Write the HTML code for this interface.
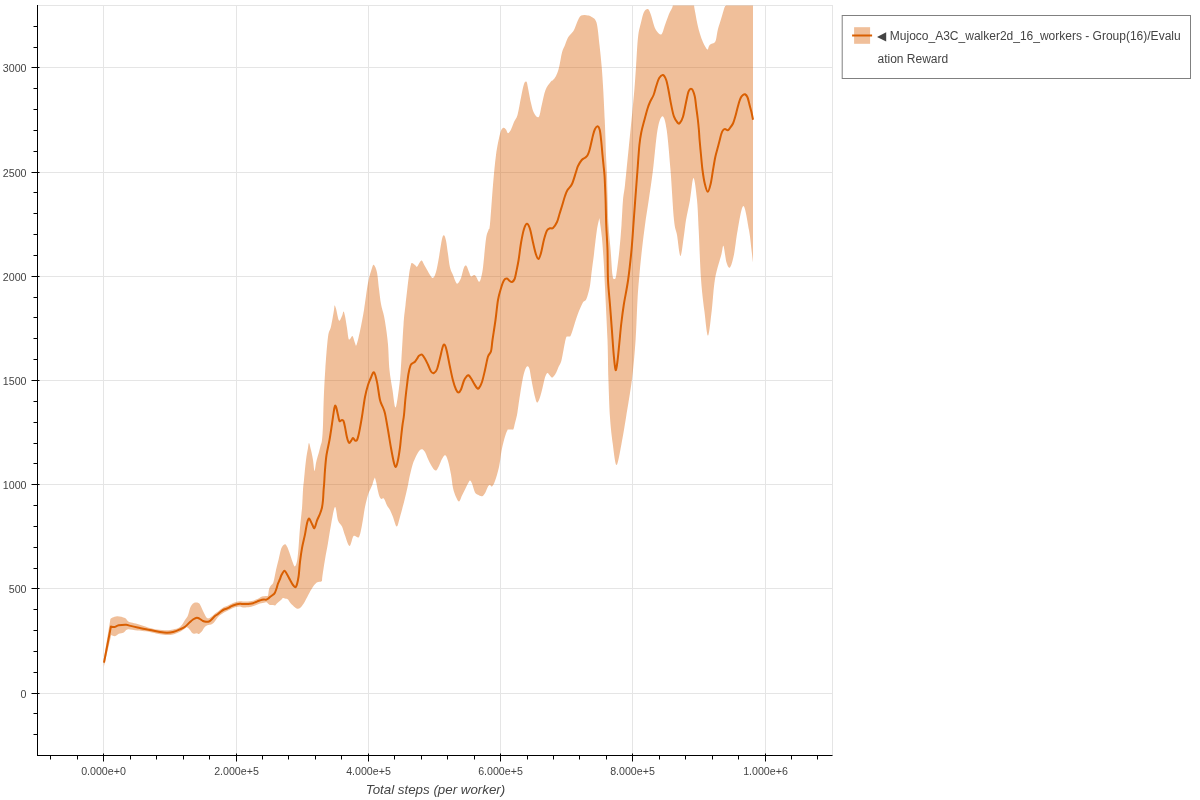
<!DOCTYPE html>
<html><head><meta charset="utf-8">
<style>
html,body{margin:0;padding:0;background:#fff;width:1200px;height:800px;overflow:hidden;}
svg{position:absolute;left:0;top:0;will-change:transform;}
.lbl text{font-family:"Liberation Sans",sans-serif;font-size:10.67px;fill:#444;}
.ax text{font-family:"Liberation Sans",sans-serif;font-size:13.33px;font-style:italic;fill:#444;}
#legend{will-change:transform;position:absolute;left:842px;top:15px;width:347px;height:62px;border:1px solid transparent;box-sizing:content-box;}
#legend .txt{position:absolute;left:34.5px;top:9px;width:305px;font-family:"Liberation Sans",sans-serif;font-size:12px;line-height:23px;color:#444;word-break:break-all;}
</style></head><body>
<svg width="1200" height="800" viewBox="0 0 1200 800">
<defs><clipPath id="cp"><rect x="37.5" y="5.5" width="795.0" height="750.0"/></clipPath></defs>
<rect x="37.5" y="5.5" width="795.0" height="750.0" fill="none" stroke="#e5e5e5" stroke-width="1"/>
<g stroke="#e5e5e5" stroke-width="1">
<line x1="103.5" y1="5.5" x2="103.5" y2="755.5" />
<line x1="236.5" y1="5.5" x2="236.5" y2="755.5" />
<line x1="368.5" y1="5.5" x2="368.5" y2="755.5" />
<line x1="500.5" y1="5.5" x2="500.5" y2="755.5" />
<line x1="632.5" y1="5.5" x2="632.5" y2="755.5" />
<line x1="765.5" y1="5.5" x2="765.5" y2="755.5" />
<line x1="37.5" y1="693.5" x2="832.5" y2="693.5" />
<line x1="37.5" y1="588.5" x2="832.5" y2="588.5" />
<line x1="37.5" y1="484.5" x2="832.5" y2="484.5" />
<line x1="37.5" y1="380.5" x2="832.5" y2="380.5" />
<line x1="37.5" y1="276.5" x2="832.5" y2="276.5" />
<line x1="37.5" y1="172.5" x2="832.5" y2="172.5" />
<line x1="37.5" y1="67.5" x2="832.5" y2="67.5" />
</g>
<g clip-path="url(#cp)">
<path d="M103.70,660.00 C104.82,653.17 109.28,625.83 110.40,619.00 C110.75,618.75 111.32,617.96 112.50,617.50 C113.68,617.04 115.42,616.17 117.50,616.25 C119.58,616.33 123.25,617.17 125.00,618.00 C126.75,618.83 126.96,620.50 128.00,621.25 C129.04,622.00 129.67,622.04 131.25,622.50 C132.83,622.96 135.42,623.42 137.50,624.00 C139.58,624.58 141.67,625.33 143.75,626.00 C145.83,626.67 148.96,627.67 150.00,628.00 C151.04,628.33 148.83,627.75 150.00,628.00 C151.17,628.25 154.17,629.13 157.00,629.50 C159.83,629.87 164.33,630.20 167.00,630.20 C169.67,630.20 170.83,630.03 173.00,629.50 C175.17,628.97 178.00,628.58 180.00,627.00 C182.00,625.42 183.67,621.95 185.00,620.00 C186.33,618.05 187.08,617.47 188.00,615.30 C188.92,613.13 189.58,609.00 190.50,607.00 C191.42,605.00 192.48,604.05 193.50,603.30 C194.52,602.55 195.68,602.50 196.60,602.50 C197.52,602.50 198.27,602.63 199.00,603.30 C199.73,603.97 200.33,605.22 201.00,606.50 C201.67,607.78 202.33,609.58 203.00,611.00 C203.67,612.42 204.33,613.83 205.00,615.00 C205.67,616.17 206.33,617.46 207.00,618.00 C207.67,618.54 208.33,618.42 209.00,618.25 C209.67,618.08 210.33,617.46 211.00,617.00 C211.67,616.54 212.33,616.08 213.00,615.50 C213.67,614.92 214.17,614.17 215.00,613.50 C215.83,612.83 217.00,612.25 218.00,611.50 C219.00,610.75 220.00,609.75 221.00,609.00 C222.00,608.25 223.00,607.50 224.00,607.00 C225.00,606.50 226.00,606.42 227.00,606.00 C228.00,605.58 229.00,605.00 230.00,604.50 C231.00,604.00 232.00,603.42 233.00,603.00 C234.00,602.58 234.83,602.28 236.00,602.00 C237.17,601.72 238.83,601.38 240.00,601.30 C241.17,601.22 242.00,601.47 243.00,601.50 C244.00,601.53 244.83,601.54 246.00,601.50 C247.17,601.46 248.83,601.38 250.00,601.25 C251.17,601.12 252.00,601.04 253.00,600.75 C254.00,600.46 255.00,599.92 256.00,599.50 C257.00,599.08 258.00,598.75 259.00,598.25 C260.00,597.75 260.83,596.88 262.00,596.50 C263.17,596.12 265.00,596.17 266.00,596.00 C267.00,595.83 267.50,596.62 268.00,595.50 C268.50,594.38 268.54,590.88 269.00,589.25 C269.46,587.62 270.02,586.92 270.75,585.75 C271.48,584.58 272.52,584.88 273.40,582.25 C274.27,579.62 275.13,573.79 276.00,570.00 C276.87,566.21 277.80,562.85 278.60,559.50 C279.40,556.15 280.07,552.23 280.80,549.90 C281.53,547.57 282.27,546.45 283.00,545.50 C283.73,544.55 284.47,543.91 285.20,544.20 C285.93,544.49 286.60,545.58 287.40,547.25 C288.20,548.92 289.13,551.79 290.00,554.25 C290.87,556.71 291.80,559.96 292.60,562.00 C293.40,564.04 294.07,566.62 294.80,566.50 C295.53,566.38 296.38,564.33 297.00,561.25 C297.62,558.17 298.00,553.62 298.50,548.00 C299.00,542.38 299.42,534.12 300.00,527.50 C300.58,520.88 301.50,514.55 302.00,508.30 C302.50,502.05 302.67,494.72 303.00,490.00 C303.33,485.28 303.50,485.00 304.00,480.00 C304.50,475.00 305.33,465.33 306.00,460.00 C306.67,454.67 307.50,450.83 308.00,448.00 C308.50,445.17 308.50,442.67 309.00,443.00 C309.50,443.33 310.33,447.17 311.00,450.00 C311.67,452.83 312.42,456.50 313.00,460.00 C313.58,463.50 314.00,470.50 314.50,471.00 C315.00,471.50 315.50,465.33 316.00,463.00 C316.50,460.67 317.00,458.83 317.50,457.00 C318.00,455.17 318.50,453.83 319.00,452.00 C319.50,450.17 320.00,448.00 320.50,446.00 C321.00,444.00 321.58,443.50 322.00,440.00 C322.42,436.50 322.72,431.67 323.00,425.00 C323.28,418.33 323.32,409.17 323.70,400.00 C324.07,390.83 324.53,380.50 325.25,370.00 C325.97,359.50 327.04,344.25 328.00,337.00 C328.96,329.75 330.00,331.00 331.00,326.50 C332.00,322.00 333.42,313.50 334.00,310.00 C334.58,306.50 334.17,305.75 334.50,305.50 C334.83,305.25 335.25,306.00 336.00,308.50 C336.75,311.00 338.00,319.25 339.00,320.50 C340.00,321.75 341.25,317.50 342.00,316.00 C342.75,314.50 343.00,311.50 343.50,311.50 C344.00,311.50 344.42,313.25 345.00,316.00 C345.58,318.75 346.42,324.25 347.00,328.00 C347.58,331.75 348.00,336.67 348.50,338.50 C349.00,340.33 349.33,339.42 350.00,339.00 C350.67,338.58 351.67,335.33 352.50,336.00 C353.33,336.67 354.33,341.50 355.00,343.00 C355.67,344.50 355.67,347.00 356.50,345.00 C357.33,343.00 358.75,336.83 360.00,331.00 C361.25,325.17 362.67,318.00 364.00,310.00 C365.33,302.00 366.67,290.00 368.00,283.00 C369.33,276.00 371.00,271.00 372.00,268.00 C373.00,265.00 373.17,264.25 374.00,265.00 C374.83,265.75 376.17,268.50 377.00,272.50 C377.83,276.50 378.33,283.75 379.00,289.00 C379.67,294.25 380.17,299.50 381.00,304.00 C381.83,308.50 383.17,312.00 384.00,316.00 C384.83,320.00 385.33,323.25 386.00,328.00 C386.67,332.75 387.42,337.50 388.00,344.50 C388.58,351.50 388.75,362.42 389.50,370.00 C390.25,377.58 391.50,383.75 392.50,390.00 C393.50,396.25 394.46,407.50 395.50,407.50 C396.54,407.50 397.88,396.25 398.75,390.00 C399.62,383.75 399.96,380.83 400.75,370.00 C401.54,359.17 402.71,335.83 403.50,325.00 C404.29,314.17 404.58,313.33 405.50,305.00 C406.42,296.67 408.08,281.75 409.00,275.00 C409.92,268.25 410.50,266.50 411.00,264.50 C411.50,262.50 411.33,262.92 412.00,263.00 C412.67,263.08 414.17,264.38 415.00,265.00 C415.83,265.62 416.17,267.25 417.00,266.75 C417.83,266.25 419.17,263.00 420.00,262.00 C420.83,261.00 421.33,260.33 422.00,260.75 C422.67,261.17 423.17,263.00 424.00,264.50 C424.83,266.00 426.00,268.00 427.00,269.75 C428.00,271.50 429.00,273.62 430.00,275.00 C431.00,276.38 432.00,278.50 433.00,278.00 C434.00,277.50 435.00,275.50 436.00,272.00 C437.00,268.50 438.00,262.50 439.00,257.00 C440.00,251.50 441.17,242.62 442.00,239.00 C442.83,235.38 443.33,235.00 444.00,235.25 C444.67,235.50 445.33,237.38 446.00,240.50 C446.67,243.62 447.33,249.50 448.00,254.00 C448.67,258.50 449.17,264.00 450.00,267.50 C450.83,271.00 452.00,272.50 453.00,275.00 C454.00,277.50 455.17,281.12 456.00,282.50 C456.83,283.88 457.17,284.00 458.00,283.25 C458.83,282.50 460.00,280.62 461.00,278.00 C462.00,275.38 463.08,269.50 464.00,267.50 C464.92,265.50 465.67,265.25 466.50,266.00 C467.33,266.75 468.25,270.25 469.00,272.00 C469.75,273.75 470.17,276.00 471.00,276.50 C471.83,277.00 473.17,275.00 474.00,275.00 C474.83,275.00 475.17,275.38 476.00,276.50 C476.83,277.62 478.17,281.50 479.00,281.75 C479.83,282.00 480.33,280.38 481.00,278.00 C481.67,275.62 482.17,274.00 483.00,267.50 C483.83,261.00 485.08,245.25 486.00,239.00 C486.92,232.75 487.83,232.50 488.50,230.00 C489.17,227.50 489.25,231.50 490.00,224.00 C490.75,216.50 492.00,196.50 493.00,185.00 C494.00,173.50 494.83,163.50 496.00,155.00 C497.17,146.50 498.83,138.50 500.00,134.00 C501.17,129.50 502.00,128.75 503.00,128.00 C504.00,127.25 505.17,128.62 506.00,129.50 C506.83,130.38 507.17,133.25 508.00,133.25 C508.83,133.25 510.00,131.38 511.00,129.50 C512.00,127.62 512.92,124.42 514.00,122.00 C515.08,119.58 516.33,119.08 517.50,115.00 C518.67,110.92 519.92,102.67 521.00,97.50 C522.08,92.33 523.08,86.62 524.00,84.00 C524.92,81.38 525.83,81.08 526.50,81.75 C527.17,82.42 527.25,84.46 528.00,88.00 C528.75,91.54 530.00,98.83 531.00,103.00 C532.00,107.17 532.71,110.67 534.00,113.00 C535.29,115.33 537.46,118.33 538.75,117.00 C540.04,115.67 540.62,109.50 541.75,105.00 C542.88,100.50 544.00,93.88 545.50,90.00 C547.00,86.12 549.50,83.42 550.75,81.75 C552.00,80.08 552.12,80.96 553.00,80.00 C553.88,79.04 555.00,78.08 556.00,76.00 C557.00,73.92 558.00,71.42 559.00,67.50 C560.00,63.58 561.00,56.25 562.00,52.50 C563.00,48.75 564.00,47.50 565.00,45.00 C566.00,42.50 566.88,39.50 568.00,37.50 C569.12,35.50 570.75,34.25 571.75,33.00 C572.75,31.75 573.12,31.75 574.00,30.00 C574.88,28.25 576.00,24.75 577.00,22.50 C578.00,20.25 578.83,17.75 580.00,16.50 C581.17,15.25 582.67,15.17 584.00,15.00 C585.33,14.83 586.83,15.25 588.00,15.50 C589.17,15.75 589.58,15.33 591.00,16.50 C592.42,17.67 595.08,17.75 596.50,22.50 C597.92,27.25 598.62,37.50 599.50,45.00 C600.38,52.50 601.12,60.00 601.75,67.50 C602.38,75.00 602.75,81.25 603.25,90.00 C603.75,98.75 604.38,111.67 604.75,120.00 C605.12,128.33 605.29,134.17 605.50,140.00 C605.71,145.83 605.75,149.17 606.00,155.00 C606.25,160.83 606.75,168.33 607.00,175.00 C607.25,181.67 607.25,186.67 607.50,195.00 C607.75,203.33 607.98,215.83 608.50,225.00 C609.02,234.17 609.93,241.67 610.60,250.00 C611.27,258.33 611.87,270.17 612.50,275.00 C613.13,279.83 613.77,279.00 614.40,279.00 C615.02,279.00 615.42,279.83 616.25,275.00 C617.08,270.17 618.52,258.33 619.40,250.00 C620.27,241.67 620.90,233.33 621.50,225.00 C622.10,216.67 622.42,206.67 623.00,200.00 C623.58,193.33 624.17,192.50 625.00,185.00 C625.83,177.50 627.08,164.17 628.00,155.00 C628.92,145.83 629.75,137.50 630.50,130.00 C631.25,122.50 631.83,117.00 632.50,110.00 C633.17,103.00 633.92,95.17 634.50,88.00 C635.08,80.83 635.42,75.42 636.00,67.00 C636.58,58.58 637.17,44.92 638.00,37.50 C638.83,30.08 640.00,26.75 641.00,22.50 C642.00,18.25 642.83,14.25 644.00,12.00 C645.17,9.75 646.83,8.50 648.00,9.00 C649.17,9.50 650.00,12.25 651.00,15.00 C652.00,17.75 653.00,22.75 654.00,25.50 C655.00,28.25 655.75,30.05 657.00,31.50 C658.25,32.95 660.17,35.28 661.50,34.20 C662.83,33.12 663.75,28.37 665.00,25.00 C666.25,21.63 667.67,17.33 669.00,14.00 C670.33,10.67 672.17,9.00 673.00,5.00 C673.83,1.00 670.67,-7.50 674.00,-10.00 C677.33,-12.50 689.67,-12.50 693.00,-10.00 C696.33,-7.50 693.58,1.00 694.00,5.00 C694.42,9.00 694.92,10.77 695.50,14.00 C696.08,17.23 696.75,21.07 697.50,24.40 C698.25,27.73 699.08,31.02 700.00,34.00 C700.92,36.98 701.79,39.67 703.00,42.25 C704.21,44.83 706.25,48.88 707.25,49.50 C708.25,50.12 708.38,46.92 709.00,46.00 C709.62,45.08 710.17,44.50 711.00,44.00 C711.83,43.50 713.18,43.67 714.00,43.00 C714.82,42.33 715.27,42.17 715.90,40.00 C716.52,37.83 717.07,32.92 717.75,30.00 C718.43,27.08 719.25,25.00 720.00,22.50 C720.75,20.00 721.50,17.50 722.25,15.00 C723.00,12.50 723.88,9.17 724.50,7.50 C725.12,5.83 725.58,7.92 726.00,5.00 C726.42,2.08 722.50,-7.50 727.00,-10.00 C731.50,-12.50 748.67,-10.00 753.00,-10.00 L753,262.5 L753.00,262.50 C752.75,260.42 752.17,255.42 751.50,250.00 C750.83,244.58 750.35,237.33 749.00,230.00 C747.65,222.67 745.28,206.00 743.40,206.00 C741.52,206.00 739.27,221.93 737.70,230.00 C736.13,238.07 735.28,248.17 734.00,254.40 C732.72,260.63 731.25,266.05 730.00,267.40 C728.75,268.75 727.58,266.07 726.50,262.50 C725.42,258.93 724.35,247.35 723.50,246.00 C722.65,244.65 722.82,248.90 721.40,254.40 C719.98,259.90 716.62,269.57 715.00,279.00 C713.38,288.43 712.87,301.57 711.70,311.00 C710.53,320.43 709.22,335.60 708.00,335.60 C706.78,335.60 705.57,320.43 704.40,311.00 C703.23,301.57 701.95,292.50 701.00,279.00 C700.05,265.50 699.37,243.17 698.70,230.00 C698.03,216.83 697.87,208.67 697.00,200.00 C696.13,191.33 694.67,178.00 693.50,178.00 C692.33,178.00 691.25,193.00 690.00,200.00 C688.75,207.00 687.00,214.17 686.00,220.00 C685.00,225.83 684.92,229.00 684.00,235.00 C683.08,241.00 681.67,256.00 680.50,256.00 C679.33,256.00 678.08,241.00 677.00,235.00 C675.92,229.00 675.08,230.83 674.00,220.00 C672.92,209.17 671.72,185.00 670.50,170.00 C669.28,155.00 668.03,138.97 666.70,130.00 C665.37,121.03 664.03,116.20 662.50,116.20 C660.97,116.20 659.08,121.03 657.50,130.00 C655.92,138.97 654.46,158.33 653.00,170.00 C651.54,181.67 650.08,190.83 648.75,200.00 C647.42,209.17 646.14,216.67 645.00,225.00 C643.86,233.33 642.83,241.67 641.90,250.00 C640.97,258.33 640.13,266.67 639.40,275.00 C638.67,283.33 638.13,289.17 637.50,300.00 C636.87,310.83 636.52,326.83 635.60,340.00 C634.68,353.17 633.60,366.08 632.00,379.00 C630.40,391.92 627.75,406.71 626.00,417.50 C624.25,428.29 623.08,435.83 621.50,443.75 C619.92,451.67 617.96,465.00 616.50,465.00 C615.04,465.00 613.83,451.67 612.75,443.75 C611.67,435.83 610.73,428.29 610.00,417.50 C609.27,406.71 608.82,391.92 608.40,379.00 C607.98,366.08 608.07,355.25 607.50,340.00 C606.93,324.75 605.62,300.42 605.00,287.50 C604.38,274.58 604.27,270.83 603.75,262.50 C603.23,254.17 602.62,244.92 601.90,237.50 C601.17,230.08 599.82,221.25 599.40,218.00 C598.96,220.17 597.65,225.00 596.75,231.00 C595.85,237.00 594.88,247.00 594.00,254.00 C593.12,261.00 592.21,267.50 591.50,273.00 C590.79,278.50 590.62,282.62 589.75,287.00 C588.88,291.38 587.42,296.67 586.25,299.30 C585.08,301.93 584.21,300.18 582.75,302.80 C581.29,305.42 579.12,310.63 577.50,315.00 C575.88,319.37 574.17,325.50 573.00,329.00 C571.83,332.50 571.33,334.75 570.50,336.00 C569.67,337.25 568.75,336.17 568.00,336.50 C567.25,336.83 566.75,335.75 566.00,338.00 C565.25,340.25 564.29,346.12 563.50,350.00 C562.71,353.88 562.08,358.42 561.25,361.25 C560.42,364.08 559.33,365.12 558.50,367.00 C557.67,368.88 557.00,371.00 556.25,372.50 C555.50,374.00 554.73,375.17 554.00,376.00 C553.27,376.83 552.65,377.67 551.90,377.50 C551.15,377.33 550.23,375.75 549.50,375.00 C548.77,374.25 548.17,372.83 547.50,373.00 C546.83,373.17 546.12,374.42 545.50,376.00 C544.88,377.58 544.42,379.83 543.75,382.50 C543.08,385.17 542.29,389.08 541.50,392.00 C540.71,394.92 539.77,398.25 539.00,400.00 C538.23,401.75 537.57,403.00 536.90,402.50 C536.23,402.00 535.65,399.42 535.00,397.00 C534.35,394.58 533.62,391.04 533.00,388.00 C532.38,384.96 531.83,381.92 531.25,378.75 C530.67,375.58 530.12,371.08 529.50,369.00 C528.88,366.92 528.25,366.08 527.50,366.25 C526.75,366.42 525.83,367.71 525.00,370.00 C524.17,372.29 523.33,375.83 522.50,380.00 C521.67,384.17 520.67,390.83 520.00,395.00 C519.33,399.17 519.00,401.67 518.50,405.00 C518.00,408.33 517.58,412.00 517.00,415.00 C516.42,418.00 515.58,420.67 515.00,423.00 C514.42,425.33 514.00,427.92 513.50,429.00 C513.00,430.08 512.83,429.42 512.00,429.50 C511.17,429.58 509.25,429.42 508.50,429.50 C507.75,429.58 508.00,429.08 507.50,430.00 C507.00,430.92 506.17,433.00 505.50,435.00 C504.83,437.00 504.17,439.33 503.50,442.00 C502.83,444.67 502.25,446.83 501.50,451.00 C500.75,455.17 500.08,462.00 499.00,467.00 C497.92,472.00 496.17,477.75 495.00,481.00 C493.83,484.25 492.83,485.83 492.00,486.50 C491.17,487.17 490.67,485.00 490.00,485.00 C489.33,485.00 488.83,485.12 488.00,486.50 C487.17,487.88 486.00,491.62 485.00,493.25 C484.00,494.88 483.17,496.00 482.00,496.25 C480.83,496.50 479.17,495.38 478.00,494.75 C476.83,494.12 476.00,494.38 475.00,492.50 C474.00,490.62 472.83,485.50 472.00,483.50 C471.17,481.50 470.67,480.50 470.00,480.50 C469.33,480.50 468.83,482.00 468.00,483.50 C467.17,485.00 466.00,487.50 465.00,489.50 C464.00,491.50 463.00,493.50 462.00,495.50 C461.00,497.50 460.00,501.25 459.00,501.50 C458.00,501.75 457.00,499.25 456.00,497.00 C455.00,494.75 453.83,491.75 453.00,488.00 C452.17,484.25 451.83,479.00 451.00,474.50 C450.17,470.00 448.97,464.21 448.00,461.00 C447.03,457.79 446.20,455.58 445.20,455.25 C444.20,454.92 443.03,457.21 442.00,459.00 C440.97,460.79 439.92,464.12 439.00,466.00 C438.08,467.88 437.33,469.67 436.50,470.25 C435.67,470.83 434.92,470.38 434.00,469.50 C433.08,468.62 432.00,466.75 431.00,465.00 C430.00,463.25 429.00,461.17 428.00,459.00 C427.00,456.83 425.96,453.62 425.00,452.00 C424.04,450.38 423.08,449.58 422.25,449.25 C421.42,448.92 420.75,449.38 420.00,450.00 C419.25,450.62 418.58,451.58 417.75,453.00 C416.92,454.42 415.88,456.50 415.00,458.50 C414.12,460.50 413.42,461.92 412.50,465.00 C411.58,468.08 410.25,473.67 409.50,477.00 C408.75,480.33 408.75,481.50 408.00,485.00 C407.25,488.50 406.33,492.67 405.00,498.00 C403.67,503.33 401.38,512.25 400.00,517.00 C398.62,521.75 397.92,526.50 396.75,526.50 C395.58,526.50 394.12,519.75 393.00,517.00 C391.88,514.25 391.00,511.92 390.00,510.00 C389.00,508.08 388.00,507.38 387.00,505.50 C386.00,503.62 384.96,499.85 384.00,498.75 C383.04,497.65 382.02,499.32 381.25,498.90 C380.48,498.48 380.02,497.90 379.40,496.25 C378.77,494.60 378.00,491.21 377.50,489.00 C377.00,486.79 376.83,484.92 376.40,483.00 C375.97,481.08 375.15,478.42 374.90,477.50 C374.71,477.92 374.19,478.75 373.75,480.00 C373.31,481.25 372.88,483.33 372.25,485.00 C371.62,486.67 370.71,488.33 370.00,490.00 C369.29,491.67 368.83,492.17 368.00,495.00 C367.17,497.83 366.00,502.00 365.00,507.00 C364.00,512.00 363.00,520.00 362.00,525.00 C361.00,530.00 360.17,535.17 359.00,537.00 C357.83,538.83 356.00,536.00 355.00,536.00 C354.00,536.00 353.92,535.33 353.00,537.00 C352.08,538.67 350.83,546.25 349.50,546.00 C348.17,545.75 346.25,538.75 345.00,535.50 C343.75,532.25 343.17,529.00 342.00,526.50 C340.83,524.00 339.17,523.75 338.00,520.50 C336.83,517.25 336.17,506.25 335.00,507.00 C333.83,507.75 332.17,519.00 331.00,525.00 C329.83,531.00 329.00,537.25 328.00,543.00 C327.00,548.75 325.95,553.83 325.00,559.50 C324.05,565.17 322.87,573.38 322.30,577.00 C321.73,580.62 322.53,580.28 321.60,581.20 C320.68,582.12 318.47,581.13 316.75,582.50 C315.03,583.87 313.59,585.73 311.30,589.40 C309.01,593.07 305.30,601.28 303.00,604.50 C300.70,607.72 299.57,608.92 297.50,608.70 C295.43,608.48 292.18,604.73 290.60,603.20 C289.02,601.67 288.93,600.28 288.00,599.50 C287.07,598.72 285.83,598.75 285.00,598.50 C284.17,598.25 283.67,597.75 283.00,598.00 C282.33,598.25 281.83,599.25 281.00,600.00 C280.17,600.75 278.83,601.75 278.00,602.50 C277.17,603.25 276.50,604.00 276.00,604.50 C275.50,605.00 275.50,605.42 275.00,605.50 C274.50,605.58 273.83,605.08 273.00,605.00 C272.17,604.92 270.83,605.25 270.00,605.00 C269.17,604.75 268.50,603.92 268.00,603.50 C267.50,603.08 267.50,602.67 267.00,602.50 C266.50,602.33 266.17,602.33 265.00,602.50 C263.83,602.67 261.67,603.00 260.00,603.50 C258.33,604.00 256.67,604.92 255.00,605.50 C253.33,606.08 252.00,606.67 250.00,607.00 C248.00,607.33 244.67,607.58 243.00,607.50 C241.33,607.42 241.17,606.58 240.00,606.50 C238.83,606.42 237.17,606.75 236.00,607.00 C234.83,607.25 234.00,607.58 233.00,608.00 C232.00,608.42 231.00,609.00 230.00,609.50 C229.00,610.00 228.00,610.50 227.00,611.00 C226.00,611.50 225.00,611.92 224.00,612.50 C223.00,613.08 222.00,613.75 221.00,614.50 C220.00,615.25 219.17,615.67 218.00,617.00 C216.83,618.33 215.17,621.25 214.00,622.50 C212.83,623.75 212.00,624.08 211.00,624.50 C210.00,624.92 208.83,624.75 208.00,625.00 C207.17,625.25 206.67,625.50 206.00,626.00 C205.33,626.50 204.67,627.12 204.00,628.00 C203.33,628.88 202.83,630.30 202.00,631.30 C201.17,632.30 199.83,633.67 199.00,634.00 C198.17,634.33 197.83,633.35 197.00,633.30 C196.17,633.25 194.83,633.80 194.00,633.70 C193.17,633.60 192.67,633.32 192.00,632.70 C191.33,632.08 190.83,630.90 190.00,630.00 C189.17,629.10 187.83,627.55 187.00,627.30 C186.17,627.05 186.17,627.75 185.00,628.50 C183.83,629.25 182.00,630.80 180.00,631.80 C178.00,632.80 175.17,633.97 173.00,634.50 C170.83,635.03 169.17,635.05 167.00,635.00 C164.83,634.95 162.83,634.72 160.00,634.20 C157.17,633.68 151.67,632.28 150.00,631.90 C148.33,631.52 152.08,632.12 150.00,631.90 C147.92,631.68 141.25,631.02 137.50,630.60 C133.75,630.18 129.79,629.08 127.50,629.40 C125.21,629.72 125.21,631.77 123.75,632.50 C122.29,633.23 120.21,633.12 118.75,633.75 C117.29,634.38 116.25,636.04 115.00,636.25 C113.75,636.46 111.88,635.21 111.25,635.00 C110.03,640.33 105.12,661.67 103.90,667.00 Z" fill="#d95f02" fill-opacity="0.4" stroke="none"/>
<path d="M104.00,662.60 C105.15,656.60 109.75,632.60 110.90,626.60 C111.48,626.67 113.09,627.22 114.40,627.00 C115.71,626.78 116.78,625.68 118.75,625.30 C120.72,624.92 124.47,624.65 126.25,624.70 C128.03,624.75 127.53,625.13 129.40,625.60 C131.28,626.07 134.07,626.77 137.50,627.50 C140.93,628.23 146.25,629.25 150.00,630.00 C153.75,630.75 157.17,631.55 160.00,632.00 C162.83,632.45 164.83,632.70 167.00,632.70 C169.17,632.70 170.83,632.57 173.00,632.00 C175.17,631.43 178.00,630.18 180.00,629.30 C182.00,628.42 183.33,627.92 185.00,626.70 C186.67,625.48 188.67,623.20 190.00,622.00 C191.33,620.80 192.00,620.17 193.00,619.50 C194.00,618.83 195.17,618.25 196.00,618.00 C196.83,617.75 197.33,617.83 198.00,618.00 C198.67,618.17 199.17,618.50 200.00,619.00 C200.83,619.50 202.00,620.54 203.00,621.00 C204.00,621.46 205.00,621.67 206.00,621.75 C207.00,621.83 208.17,621.79 209.00,621.50 C209.83,621.21 210.33,620.58 211.00,620.00 C211.67,619.42 212.33,618.67 213.00,618.00 C213.67,617.33 214.17,616.67 215.00,616.00 C215.83,615.33 217.00,614.75 218.00,614.00 C219.00,613.25 220.00,612.25 221.00,611.50 C222.00,610.75 223.00,610.00 224.00,609.50 C225.00,609.00 226.00,608.92 227.00,608.50 C228.00,608.08 229.00,607.50 230.00,607.00 C231.00,606.50 232.00,605.92 233.00,605.50 C234.00,605.08 234.83,604.78 236.00,604.50 C237.17,604.22 238.83,603.88 240.00,603.80 C241.17,603.72 242.00,603.97 243.00,604.00 C244.00,604.03 244.83,604.04 246.00,604.00 C247.17,603.96 248.83,603.88 250.00,603.75 C251.17,603.62 252.00,603.54 253.00,603.25 C254.00,602.96 255.00,602.42 256.00,602.00 C257.00,601.58 258.00,601.12 259.00,600.75 C260.00,600.38 261.17,599.96 262.00,599.75 C262.83,599.54 263.33,599.50 264.00,599.50 C264.67,599.50 265.33,599.88 266.00,599.75 C266.67,599.62 267.33,599.21 268.00,598.75 C268.67,598.29 269.33,597.54 270.00,597.00 C270.67,596.46 271.33,596.00 272.00,595.50 C272.67,595.00 273.50,594.50 274.00,594.00 C274.50,593.50 274.67,593.17 275.00,592.50 C275.33,591.83 275.67,590.92 276.00,590.00 C276.33,589.08 276.67,588.08 277.00,587.00 C277.33,585.92 277.50,584.83 278.00,583.50 C278.50,582.17 279.42,580.42 280.00,579.00 C280.58,577.58 280.75,576.37 281.50,575.00 C282.25,573.63 283.58,570.92 284.50,570.80 C285.42,570.68 286.08,572.80 287.00,574.30 C287.92,575.80 289.00,578.02 290.00,579.80 C291.00,581.58 292.00,583.85 293.00,585.00 C294.00,586.15 295.08,588.03 296.00,586.70 C296.92,585.37 297.83,581.13 298.50,577.00 C299.17,572.87 299.42,566.72 300.00,561.90 C300.58,557.08 301.17,552.68 302.00,548.10 C302.83,543.52 304.17,538.52 305.00,534.40 C305.83,530.28 306.33,526.03 307.00,523.40 C307.67,520.77 308.17,518.50 309.00,518.60 C309.83,518.70 311.08,522.40 312.00,524.00 C312.92,525.60 313.67,528.77 314.50,528.20 C315.33,527.63 316.08,523.01 317.00,520.60 C317.92,518.19 319.17,515.93 320.00,513.75 C320.83,511.57 321.50,509.79 322.00,507.50 C322.50,505.21 322.73,502.92 323.00,500.00 C323.27,497.08 323.40,492.83 323.60,490.00 C323.80,487.17 323.97,486.33 324.20,483.00 C324.43,479.67 324.62,474.67 325.00,470.00 C325.38,465.33 325.75,460.00 326.50,455.00 C327.25,450.00 328.58,445.17 329.50,440.00 C330.42,434.83 331.17,429.42 332.00,424.00 C332.83,418.58 333.83,410.38 334.50,407.50 C335.17,404.62 335.42,405.50 336.00,406.75 C336.58,408.00 337.42,412.62 338.00,415.00 C338.58,417.38 338.83,420.17 339.50,421.00 C340.17,421.83 341.33,420.00 342.00,420.00 C342.67,420.00 343.00,419.83 343.50,421.00 C344.00,422.17 344.42,424.25 345.00,427.00 C345.58,429.75 346.33,434.88 347.00,437.50 C347.67,440.12 348.33,442.17 349.00,442.75 C349.67,443.33 350.33,441.79 351.00,441.00 C351.67,440.21 352.33,438.08 353.00,438.00 C353.67,437.92 354.33,440.17 355.00,440.50 C355.67,440.83 356.33,441.25 357.00,440.00 C357.67,438.75 358.17,436.92 359.00,433.00 C359.83,429.08 361.00,422.50 362.00,416.50 C363.00,410.50 364.00,402.25 365.00,397.00 C366.00,391.75 367.00,388.25 368.00,385.00 C369.00,381.75 370.00,379.62 371.00,377.50 C372.00,375.38 373.00,371.50 374.00,372.25 C375.00,373.00 376.00,377.38 377.00,382.00 C378.00,386.62 379.00,395.75 380.00,400.00 C381.00,404.25 382.17,405.25 383.00,407.50 C383.83,409.75 384.17,409.75 385.00,413.50 C385.83,417.25 387.00,424.25 388.00,430.00 C389.00,435.75 390.00,442.50 391.00,448.00 C392.00,453.50 393.17,459.88 394.00,463.00 C394.83,466.12 395.33,467.25 396.00,466.75 C396.67,466.25 397.33,463.21 398.00,460.00 C398.67,456.79 399.50,451.17 400.00,447.50 C400.50,443.83 400.58,441.75 401.00,438.00 C401.42,434.25 402.00,428.83 402.50,425.00 C403.00,421.17 403.53,419.17 404.00,415.00 C404.47,410.83 404.80,405.00 405.30,400.00 C405.80,395.00 406.47,389.38 407.00,385.00 C407.53,380.62 407.92,377.00 408.50,373.75 C409.08,370.50 409.83,367.25 410.50,365.50 C411.17,363.75 411.75,363.88 412.50,363.25 C413.25,362.62 414.25,362.50 415.00,361.75 C415.75,361.00 416.33,359.75 417.00,358.75 C417.67,357.75 418.17,356.44 419.00,355.75 C419.83,355.06 421.00,354.10 422.00,354.60 C423.00,355.10 424.00,357.06 425.00,358.75 C426.00,360.44 427.00,362.62 428.00,364.75 C429.00,366.88 430.00,370.12 431.00,371.50 C432.00,372.88 433.00,373.38 434.00,373.00 C435.00,372.62 436.00,371.75 437.00,369.25 C438.00,366.75 439.00,361.88 440.00,358.00 C441.00,354.12 442.17,348.12 443.00,346.00 C443.83,343.88 444.33,344.25 445.00,345.25 C445.67,346.25 446.17,348.38 447.00,352.00 C447.83,355.62 449.00,362.25 450.00,367.00 C451.00,371.75 452.00,376.75 453.00,380.50 C454.00,384.25 455.08,387.50 456.00,389.50 C456.92,391.50 457.67,392.50 458.50,392.50 C459.33,392.50 460.08,391.50 461.00,389.50 C461.92,387.50 463.00,382.75 464.00,380.50 C465.00,378.25 466.25,376.88 467.00,376.00 C467.75,375.12 467.83,374.88 468.50,375.25 C469.17,375.62 470.08,376.88 471.00,378.25 C471.92,379.62 473.00,381.88 474.00,383.50 C475.00,385.12 476.17,387.25 477.00,388.00 C477.83,388.75 478.17,389.00 479.00,388.00 C479.83,387.00 481.00,385.00 482.00,382.00 C483.00,379.00 484.00,374.25 485.00,370.00 C486.00,365.75 487.00,359.62 488.00,356.50 C489.00,353.38 490.25,354.00 491.00,351.25 C491.75,348.50 491.75,345.21 492.50,340.00 C493.25,334.79 494.58,326.67 495.50,320.00 C496.42,313.33 497.08,305.30 498.00,300.00 C498.92,294.70 500.00,291.48 501.00,288.20 C502.00,284.92 503.00,281.90 504.00,280.30 C505.00,278.70 506.08,278.52 507.00,278.60 C507.92,278.68 508.67,280.23 509.50,280.80 C510.33,281.37 511.15,282.30 512.00,282.00 C512.85,281.70 513.87,280.78 514.60,279.00 C515.33,277.22 515.73,274.47 516.40,271.30 C517.07,268.13 517.83,264.72 518.60,260.00 C519.37,255.28 520.10,248.17 521.00,243.00 C521.90,237.83 523.00,232.21 524.00,229.00 C525.00,225.79 526.00,223.75 527.00,223.75 C528.00,223.75 529.00,225.88 530.00,229.00 C531.00,232.12 532.00,238.25 533.00,242.50 C534.00,246.75 535.08,251.75 536.00,254.50 C536.92,257.25 537.67,259.25 538.50,259.00 C539.33,258.75 540.08,256.25 541.00,253.00 C541.92,249.75 543.00,243.25 544.00,239.50 C545.00,235.75 546.00,232.38 547.00,230.50 C548.00,228.62 549.00,228.67 550.00,228.25 C551.00,227.83 551.83,229.04 553.00,228.00 C554.17,226.96 555.92,224.33 557.00,222.00 C558.08,219.67 558.67,216.67 559.50,214.00 C560.33,211.33 561.08,209.00 562.00,206.00 C562.92,203.00 564.08,198.67 565.00,196.00 C565.92,193.33 566.33,192.00 567.50,190.00 C568.67,188.00 570.58,187.00 572.00,184.00 C573.42,181.00 575.00,175.00 576.00,172.00 C577.00,169.00 577.04,168.00 578.00,166.00 C578.96,164.00 580.57,161.38 581.75,160.00 C582.93,158.62 584.16,158.50 585.10,157.75 C586.04,157.00 586.71,156.62 587.40,155.50 C588.09,154.38 588.63,153.00 589.25,151.00 C589.87,149.00 590.48,146.12 591.10,143.50 C591.73,140.88 592.37,137.62 593.00,135.25 C593.63,132.88 594.15,130.75 594.90,129.25 C595.65,127.75 596.69,126.12 597.50,126.25 C598.31,126.38 599.12,127.50 599.75,130.00 C600.38,132.50 600.79,137.08 601.25,141.25 C601.71,145.42 602.12,151.04 602.50,155.00 C602.88,158.96 603.17,161.67 603.50,165.00 C603.83,168.33 604.25,171.67 604.50,175.00 C604.75,178.33 604.82,180.83 605.00,185.00 C605.18,189.17 605.39,193.33 605.60,200.00 C605.81,206.67 605.93,216.67 606.25,225.00 C606.57,233.33 607.21,240.83 607.50,250.00 C607.79,259.17 607.58,270.83 608.00,280.00 C608.42,289.17 609.35,296.67 610.00,305.00 C610.65,313.33 611.27,321.67 611.90,330.00 C612.52,338.33 613.13,348.33 613.75,355.00 C614.37,361.67 614.98,369.00 615.60,370.00 C616.23,371.00 616.87,365.58 617.50,361.00 C618.13,356.42 618.77,348.71 619.40,342.50 C620.02,336.29 620.52,330.00 621.25,323.75 C621.98,317.50 622.61,312.29 623.75,305.00 C624.89,297.71 626.81,289.17 628.10,280.00 C629.39,270.83 630.56,260.00 631.50,250.00 C632.44,240.00 633.07,229.17 633.75,220.00 C634.43,210.83 634.98,203.33 635.60,195.00 C636.23,186.67 636.87,178.33 637.50,170.00 C638.13,161.67 638.77,151.25 639.40,145.00 C640.02,138.75 640.42,136.67 641.25,132.50 C642.08,128.33 643.36,123.97 644.40,120.00 C645.44,116.03 646.57,111.70 647.50,108.70 C648.43,105.70 648.98,104.28 650.00,102.00 C651.02,99.72 652.57,97.63 653.60,95.00 C654.63,92.37 655.27,89.03 656.20,86.20 C657.13,83.37 658.07,79.87 659.20,78.00 C660.33,76.13 661.83,74.67 663.00,75.00 C664.17,75.33 665.25,77.30 666.20,80.00 C667.15,82.70 667.87,87.05 668.70,91.20 C669.53,95.35 670.32,100.65 671.20,104.90 C672.08,109.15 672.93,113.73 674.00,116.70 C675.07,119.67 676.63,121.65 677.60,122.70 C678.57,123.75 678.90,124.00 679.80,123.00 C680.70,122.00 681.97,120.12 683.00,116.70 C684.03,113.28 685.05,106.75 686.00,102.50 C686.95,98.25 687.74,93.43 688.70,91.20 C689.66,88.97 690.74,88.26 691.75,89.10 C692.76,89.94 694.00,93.18 694.75,96.25 C695.50,99.32 695.75,103.75 696.25,107.50 C696.75,111.25 697.31,115.00 697.75,118.75 C698.19,122.50 698.59,126.46 698.90,130.00 C699.21,133.54 699.25,135.83 699.60,140.00 C699.95,144.17 700.52,150.00 701.00,155.00 C701.48,160.00 701.88,165.25 702.50,170.00 C703.12,174.75 703.88,179.88 704.75,183.50 C705.62,187.12 706.75,191.75 707.75,191.75 C708.75,191.75 709.88,187.12 710.75,183.50 C711.62,179.88 712.25,174.38 713.00,170.00 C713.75,165.62 714.50,160.82 715.25,157.25 C716.00,153.68 716.75,151.47 717.50,148.60 C718.25,145.72 719.12,142.43 719.75,140.00 C720.38,137.57 720.76,135.62 721.30,134.00 C721.84,132.38 722.38,131.07 723.00,130.25 C723.62,129.43 724.21,129.10 725.00,129.10 C725.79,129.10 726.92,130.43 727.75,130.25 C728.58,130.07 729.12,129.12 730.00,128.00 C730.88,126.88 732.17,125.25 733.00,123.50 C733.83,121.75 734.33,119.75 735.00,117.50 C735.67,115.25 736.33,112.50 737.00,110.00 C737.67,107.50 738.33,104.62 739.00,102.50 C739.67,100.38 740.33,98.50 741.00,97.25 C741.67,96.00 742.33,95.50 743.00,95.00 C743.67,94.50 744.25,93.88 745.00,94.25 C745.75,94.62 746.75,95.50 747.50,97.25 C748.25,99.00 748.83,102.25 749.50,104.75 C750.17,107.25 750.92,109.75 751.50,112.25 C752.08,114.75 752.75,118.50 753.00,119.75" fill="none" stroke="#d95f02" stroke-width="2" stroke-linejoin="round"/>
</g>
<g stroke="#000" stroke-width="1">
<line x1="37.5" y1="5.0" x2="37.5" y2="756.0" />
<line x1="37.0" y1="755.5" x2="832.5" y2="755.5" />
<line x1="103.5" y1="753.5" x2="103.5" y2="761.5" />
<line x1="236.5" y1="753.5" x2="236.5" y2="761.5" />
<line x1="368.5" y1="753.5" x2="368.5" y2="761.5" />
<line x1="500.5" y1="753.5" x2="500.5" y2="761.5" />
<line x1="632.5" y1="753.5" x2="632.5" y2="761.5" />
<line x1="765.5" y1="753.5" x2="765.5" y2="761.5" />
<line x1="50.5" y1="755.5" x2="50.5" y2="759.5" />
<line x1="77.5" y1="755.5" x2="77.5" y2="759.5" />
<line x1="130.5" y1="755.5" x2="130.5" y2="759.5" />
<line x1="156.5" y1="755.5" x2="156.5" y2="759.5" />
<line x1="183.5" y1="755.5" x2="183.5" y2="759.5" />
<line x1="209.5" y1="755.5" x2="209.5" y2="759.5" />
<line x1="262.5" y1="755.5" x2="262.5" y2="759.5" />
<line x1="288.5" y1="755.5" x2="288.5" y2="759.5" />
<line x1="315.5" y1="755.5" x2="315.5" y2="759.5" />
<line x1="341.5" y1="755.5" x2="341.5" y2="759.5" />
<line x1="394.5" y1="755.5" x2="394.5" y2="759.5" />
<line x1="421.5" y1="755.5" x2="421.5" y2="759.5" />
<line x1="447.5" y1="755.5" x2="447.5" y2="759.5" />
<line x1="474.5" y1="755.5" x2="474.5" y2="759.5" />
<line x1="527.5" y1="755.5" x2="527.5" y2="759.5" />
<line x1="553.5" y1="755.5" x2="553.5" y2="759.5" />
<line x1="579.5" y1="755.5" x2="579.5" y2="759.5" />
<line x1="606.5" y1="755.5" x2="606.5" y2="759.5" />
<line x1="659.5" y1="755.5" x2="659.5" y2="759.5" />
<line x1="685.5" y1="755.5" x2="685.5" y2="759.5" />
<line x1="712.5" y1="755.5" x2="712.5" y2="759.5" />
<line x1="738.5" y1="755.5" x2="738.5" y2="759.5" />
<line x1="791.5" y1="755.5" x2="791.5" y2="759.5" />
<line x1="817.5" y1="755.5" x2="817.5" y2="759.5" />
<line x1="31.5" y1="693.5" x2="39.5" y2="693.5" />
<line x1="31.5" y1="588.5" x2="39.5" y2="588.5" />
<line x1="31.5" y1="484.5" x2="39.5" y2="484.5" />
<line x1="31.5" y1="380.5" x2="39.5" y2="380.5" />
<line x1="31.5" y1="276.5" x2="39.5" y2="276.5" />
<line x1="31.5" y1="172.5" x2="39.5" y2="172.5" />
<line x1="31.5" y1="67.5" x2="39.5" y2="67.5" />
<line x1="33.5" y1="734.5" x2="37.5" y2="734.5" />
<line x1="33.5" y1="713.5" x2="37.5" y2="713.5" />
<line x1="33.5" y1="672.5" x2="37.5" y2="672.5" />
<line x1="33.5" y1="651.5" x2="37.5" y2="651.5" />
<line x1="33.5" y1="630.5" x2="37.5" y2="630.5" />
<line x1="33.5" y1="609.5" x2="37.5" y2="609.5" />
<line x1="33.5" y1="568.5" x2="37.5" y2="568.5" />
<line x1="33.5" y1="547.5" x2="37.5" y2="547.5" />
<line x1="33.5" y1="526.5" x2="37.5" y2="526.5" />
<line x1="33.5" y1="505.5" x2="37.5" y2="505.5" />
<line x1="33.5" y1="463.5" x2="37.5" y2="463.5" />
<line x1="33.5" y1="443.5" x2="37.5" y2="443.5" />
<line x1="33.5" y1="422.5" x2="37.5" y2="422.5" />
<line x1="33.5" y1="401.5" x2="37.5" y2="401.5" />
<line x1="33.5" y1="359.5" x2="37.5" y2="359.5" />
<line x1="33.5" y1="338.5" x2="37.5" y2="338.5" />
<line x1="33.5" y1="317.5" x2="37.5" y2="317.5" />
<line x1="33.5" y1="297.5" x2="37.5" y2="297.5" />
<line x1="33.5" y1="255.5" x2="37.5" y2="255.5" />
<line x1="33.5" y1="234.5" x2="37.5" y2="234.5" />
<line x1="33.5" y1="213.5" x2="37.5" y2="213.5" />
<line x1="33.5" y1="192.5" x2="37.5" y2="192.5" />
<line x1="33.5" y1="151.5" x2="37.5" y2="151.5" />
<line x1="33.5" y1="130.5" x2="37.5" y2="130.5" />
<line x1="33.5" y1="109.5" x2="37.5" y2="109.5" />
<line x1="33.5" y1="88.5" x2="37.5" y2="88.5" />
<line x1="33.5" y1="47.5" x2="37.5" y2="47.5" />
<line x1="33.5" y1="26.5" x2="37.5" y2="26.5" />
</g>
<g class="lbl">
<text x="103.5" y="775" text-anchor="middle">0.000e+0</text>
<text x="236.5" y="775" text-anchor="middle">2.000e+5</text>
<text x="368.5" y="775" text-anchor="middle">4.000e+5</text>
<text x="500.5" y="775" text-anchor="middle">6.000e+5</text>
<text x="632.5" y="775" text-anchor="middle">8.000e+5</text>
<text x="765.5" y="775" text-anchor="middle">1.000e+6</text>
<text x="26.5" y="697.5" text-anchor="end">0</text>
<text x="26.5" y="592.5" text-anchor="end">500</text>
<text x="26.5" y="488.5" text-anchor="end">1000</text>
<text x="26.5" y="384.5" text-anchor="end">1500</text>
<text x="26.5" y="280.5" text-anchor="end">2000</text>
<text x="26.5" y="176.5" text-anchor="end">2500</text>
<text x="26.5" y="71.5" text-anchor="end">3000</text>
</g>
<rect x="842.2" y="15.5" width="348.3" height="63" fill="#fff" stroke="#808080" stroke-width="1"/>
<g class="ax"><text x="435.5" y="793.5" text-anchor="middle">Total steps (per worker)</text></g>
</svg>
<div id="legend">
<svg width="30" height="30" style="position:absolute;left:0;top:0">
<rect x="11.1" y="11.2" width="16" height="16.6" fill="#d95f02" fill-opacity="0.4"/>
<line x1="9.1" y1="19.5" x2="29.1" y2="19.5" stroke="#d95f02" stroke-width="2"/>
</svg>
<div class="txt"><span style="position:relative;left:-0.8px">&#9664;</span> Mujoco_A3C_walker2d_16_workers - Group(16)/Evaluation Reward</div>
</div>
</body></html>
